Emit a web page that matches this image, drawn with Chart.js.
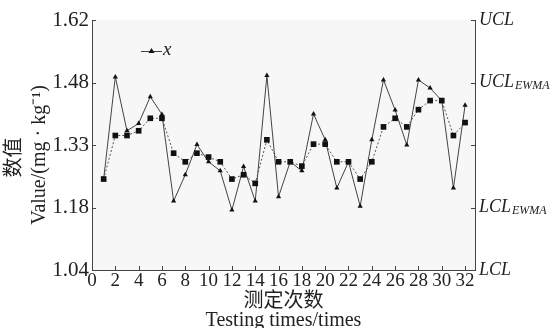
<!DOCTYPE html>
<html>
<head>
<meta charset="utf-8">
<script src="https://cdn.jsdelivr.net/npm/chart.js@4.4.0/dist/chart.umd.min.js"></script>
<style>
  html, body { margin: 0; padding: 0; background: #fff; }
  #wrap { width: 558px; height: 328px; }
</style>
</head>
<body>
<div id="wrap"><canvas id="chart1" width="558" height="328"></canvas></div>
<script>
// testing number 1..32
var testNo = [1, 2, 3, 4, 5, 6, 7, 8, 9, 10, 11, 12, 13, 14, 15, 16,
              17, 18, 19, 20, 21, 22, 23, 24, 25, 26, 27, 28, 29, 30, 31, 32];
// measured values x
var xValues = [1.251, 1.488, 1.363, 1.380, 1.442, 1.401, 1.200, 1.261, 1.331, 1.291, 1.270, 1.179, 1.280, 1.200, 1.491, 1.210,
               1.291, 1.270, 1.402, 1.342, 1.230, 1.291, 1.188, 1.342, 1.481, 1.411, 1.330, 1.481, 1.462, 1.433, 1.230, 1.422];
// EWMA values
var ewmaValues = [1.251, 1.352, 1.352, 1.363, 1.392, 1.392, 1.311, 1.291, 1.311, 1.302, 1.291, 1.251, 1.261, 1.241, 1.342, 1.291,
                  1.291, 1.281, 1.332, 1.332, 1.291, 1.291, 1.251, 1.291, 1.372, 1.392, 1.372, 1.412, 1.433, 1.433, 1.352, 1.382];

var xTickValues = [0, 2, 4, 6, 8, 10, 12, 14, 16, 18, 20, 22, 24, 26, 28, 30, 32];
var yTickValues = [1.04, 1.185, 1.33, 1.475, 1.62];
var yTickLabels = ['1.04', '1.18', '1.33', '1.48', '1.62'];
// right side control limit labels [main, subscript]
var limitLabels = [['LCL', ''], ['LCL', 'EWMA'], ['', ''], ['UCL', 'EWMA'], ['UCL', '']];

var serif = "'Liberation Serif', 'Noto Sans CJK SC', serif";

function toPoints(vals) {
    return testNo.map(function (n, i) { return { x: n, y: vals[i] }; });
}

var plotBg = {
    id: 'plotBg',
    beforeDraw: function (chart) {
        var a = chart.chartArea, ctx = chart.ctx;
        ctx.save();
        ctx.fillStyle = '#f7f7f7';
        ctx.fillRect(a.left, a.top, a.right - a.left, a.bottom - a.top);
        ctx.restore();
    }
};

// short tick marks pointing into the plot
var innerTicks = {
    id: 'innerTicks',
    beforeDatasetsDraw: function (chart) {
        var a = chart.chartArea, ctx = chart.ctx, s = chart.scales;
        ctx.save();
        ctx.strokeStyle = '#444';
        ctx.lineWidth = 1;
        ctx.beginPath();
        s.x.ticks.forEach(function (t) {
            var px = Math.round(s.x.getPixelForValue(t.value)) + 0.5;
            ctx.moveTo(px, a.bottom); ctx.lineTo(px, a.bottom - 4);
        });
        s.y.ticks.forEach(function (t) {
            var py = Math.round(s.y.getPixelForValue(t.value)) + 0.5;
            ctx.moveTo(a.left, py); ctx.lineTo(a.left + 4, py);
        });
        s.y2.ticks.forEach(function (t) {
            var py = Math.round(s.y2.getPixelForValue(t.value)) + 0.5;
            ctx.moveTo(a.right, py); ctx.lineTo(a.right - 4, py);
        });
        ctx.stroke();
        ctx.restore();
    }
};

// UCL / LCL labels on the right axis
var limitText = {
    id: 'limitText',
    afterDraw: function (chart) {
        var a = chart.chartArea, ctx = chart.ctx, s = chart.scales.y2;
        ctx.save();
        ctx.fillStyle = '#222';
        ctx.textBaseline = 'middle';
        yTickValues.forEach(function (v, i) {
            var lab = limitLabels[i];
            if (!lab[0]) return;
            var py = s.getPixelForValue(v);
            var px = a.right + 4;
            ctx.font = 'italic 18px ' + serif;
            ctx.fillText(lab[0], px, py);
            if (lab[1]) {
                var w = ctx.measureText(lab[0]).width;
                ctx.font = 'italic 12px ' + serif;
                ctx.fillText(lab[1], px + w + 1, py + 3);
            }
        });
        ctx.restore();
    }
};

// legend inside the plot: only the x series
var legendBox = {
    id: 'legendBox',
    afterDraw: function (chart) {
        var a = chart.chartArea, ctx = chart.ctx;
        var lx = a.left + 49, ly = a.top + 31;
        ctx.save();
        ctx.strokeStyle = '#444';
        ctx.lineWidth = 1;
        ctx.beginPath();
        ctx.moveTo(lx, ly + 0.5); ctx.lineTo(lx + 21, ly + 0.5);
        ctx.stroke();
        ctx.fillStyle = '#111';
        ctx.beginPath();
        ctx.moveTo(lx + 10.5, ly - 3); ctx.lineTo(lx + 13.5, ly + 2); ctx.lineTo(lx + 7.5, ly + 2);
        ctx.closePath(); ctx.fill();
        ctx.fillStyle = '#222';
        ctx.font = 'italic 19px ' + serif;
        ctx.textBaseline = 'middle';
        ctx.fillText('x', lx + 22, ly - 1);
        ctx.restore();
    }
};

var ctx1 = document.getElementById('chart1').getContext('2d');

var chart1 = new Chart(ctx1, {
    type: 'line',
    data: {
        datasets: [{
            label: 'EWMA',
            data: toPoints(ewmaValues),
            borderColor: '#555',
            borderWidth: 1,
            borderDash: [2, 2],
            pointStyle: 'rect',
            pointRadius: 4,
            pointBackgroundColor: '#111',
            pointBorderColor: '#111',
            pointBorderWidth: 0,
            tension: 0,
            order: 0
        }, {
            label: 'x',
            data: toPoints(xValues),
            borderColor: '#444',
            borderWidth: 1,
            pointStyle: 'triangle',
            pointRadius: 3,
            pointBackgroundColor: '#111',
            pointBorderColor: '#111',
            pointBorderWidth: 0,
            tension: 0,
            order: 1
        }]
    },
    options: {
        responsive: false,
        animation: false,
        layout: { padding: { top: 20, left: 0, right: 0, bottom: 0 } },
        plugins: {
            legend: { display: false },
            tooltip: { enabled: false }
        },
        scales: {
            x: {
                type: 'linear',
                position: 'bottom',
                min: 0,
                max: 32.85,
                afterBuildTicks: function (scale) {
                    scale.ticks = xTickValues.map(function (v) { return { value: v }; });
                },
                afterFit: function (scale) { scale.height = 58; },
                ticks: {
                    color: '#222',
                    font: { family: serif, size: 19 },
                    maxRotation: 0,
                    autoSkip: false,
                    padding: 0,
                    callback: function (v) { return String(v); }
                },
                grid: { drawOnChartArea: false, drawTicks: false },
                border: { color: '#444', width: 1 },
                title: {
                    display: true,
                    text: ['测定次数', 'Testing times/times'],
                    color: '#222',
                    font: { family: serif, size: 20, lineHeight: 0.95 },
                    padding: { top: 0, bottom: -2 }
                }
            },
            y: {
                position: 'left',
                min: 1.04,
                max: 1.62,
                afterBuildTicks: function (scale) {
                    scale.ticks = yTickValues.map(function (v) { return { value: v }; });
                },
                afterFit: function (scale) { scale.width = 92; },
                ticks: {
                    color: '#222',
                    font: { family: serif, size: 21 },
                    padding: 3,
                    callback: function (v, i) { return yTickLabels[i]; }
                },
                grid: { drawOnChartArea: false, drawTicks: false },
                border: { color: '#444', width: 1 },
                title: {
                    display: true,
                    text: ['数值     ', 'Value/(mg · kg⁻¹)    '],
                    color: '#222',
                    font: { family: serif, size: 20, lineHeight: 1.25 },
                    padding: { top: 2, bottom: 0 }
                }
            },
            y2: {
                position: 'right',
                min: 1.04,
                max: 1.62,
                afterBuildTicks: function (scale) {
                    scale.ticks = yTickValues.map(function (v) { return { value: v }; });
                },
                afterFit: function (scale) { scale.width = 83; },
                ticks: { display: false },
                grid: { drawOnChartArea: false, drawTicks: false },
                border: { color: '#444', width: 1 }
            }
        }
    },
    plugins: [plotBg, innerTicks, limitText, legendBox]
});
</script>
</body>
</html>
